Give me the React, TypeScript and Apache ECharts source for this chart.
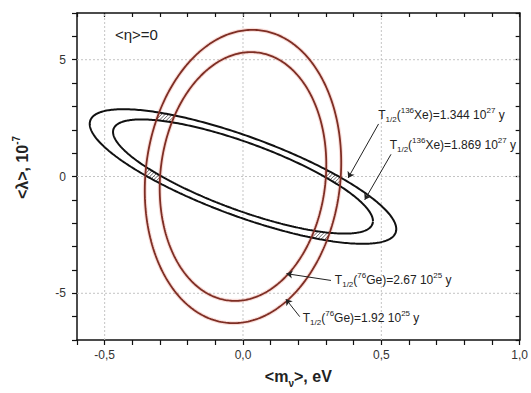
import React, { useEffect, useRef } from "react";
import * as echarts from "echarts";

// Half-life limits behind each allowed-region contour
const geHalfLives = [1.92, 2.67]; // 76Ge, in 10^25 y
const xeHalfLives = [1.344, 1.869]; // 136Xe, in 10^27 y

// Contour at the first half-life of each isotope: [m semi-axis (eV), λ semi-axis (10^-7), tilt term (10^-7)]
const geContour = [0.355, 6.25, 0.6];
const xeContour = [0.554, 1.8, -2.25];

// Axis ticks that carry a label and a grid line
const xLabelTicks = [-0.5, 0, 0.5, 1.0];
const yLabelTicks = [-5, 0, 5];
const xRange = [-0.6, 1.0];
const yRange = [-7, 7];

type Ring = { a: number; b: number; c: number };

// A contour shrinks as 1/sqrt(T1/2) relative to the reference limit
const scaleRing = (shape: number[], tRef: number, t: number): Ring => {
  const s = Math.sqrt(tRef / t);
  return { a: shape[0] * s, b: shape[1] * s, c: shape[2] * s };
};

const ringPoints = (r: Ring, n = 360) => {
  const pts: number[][] = [];
  for (let i = 0; i <= n; i++) {
    const t = (2 * Math.PI * i) / n;
    pts.push([r.a * Math.cos(t), r.b * Math.sin(t) + r.c * Math.cos(t)]);
  }
  return pts;
};

// < 1 inside the contour, > 1 outside
const ringLevel = (r: Ring, x: number, y: number) => {
  const u = x / r.a;
  const v = (y - r.c * u) / r.b;
  return u * u + v * v;
};

const geRings = geHalfLives.map((t) => scaleRing(geContour, geHalfLives[0], t));
const xeRings = xeHalfLives.map((t) => scaleRing(xeContour, xeHalfLives[0], t));

// Points inside both bands (between the two Ge contours and between the two Xe contours)
const inOverlap = (x: number, y: number) =>
  ringLevel(geRings[0], x, y) <= 1 &&
  ringLevel(geRings[1], x, y) >= 1 &&
  ringLevel(xeRings[0], x, y) <= 1 &&
  ringLevel(xeRings[1], x, y) >= 1;

const FONT = "'Liberation Sans', Arial, sans-serif";

const richLabel = {
  sub: { fontSize: 8, verticalAlign: "bottom", lineHeight: 17, fontFamily: FONT, fill: "#222" },
  sup: { fontSize: 8, verticalAlign: "top", lineHeight: 17, fontFamily: FONT, fill: "#222" },
  n: { fontSize: 12, lineHeight: 17, fontFamily: FONT, fill: "#222" },
};

// Callouts: text anchor, arrow tail and arrow tip in data coordinates
const callouts = [
  {
    text: `{n|T}{sub|1/2}{n|(}{sup|136}{n|Xe)=${xeHalfLives[0]} 10}{sup|27}{n| y}`,
    at: [0.489, 2.64],
    tail: [0.49, 2.25],
    tip: [0.38, -0.06],
  },
  {
    text: `{n|T}{sub|1/2}{n|(}{sup|136}{n|Xe)=${xeHalfLives[1]} 10}{sup|27}{n| y}`,
    at: [0.53, 1.35],
    tail: [0.535, 0.95],
    tip: [0.44, -1.0],
  },
  {
    text: `{n|T}{sub|1/2}{n|(}{sup|76}{n|Ge)=${geHalfLives[1]} 10}{sup|25}{n| y}`,
    at: [0.332, -4.43],
    tail: [0.318, -4.45],
    tip: [0.157, -4.16],
  },
  {
    text: `{n|T}{sub|1/2}{n|(}{sup|76}{n|Ge)=${geHalfLives[0]} 10}{sup|25}{n| y}`,
    at: [0.216, -6.05],
    tail: [0.205, -6.0],
    tip: [0.155, -5.25],
  },
];

const isMultiple = (v: number, step: number) => Math.abs(v / step - Math.round(v / step)) < 1e-6;

const axisLineStyle = { color: "#111", width: 1.5 };

const option: any = {
  animation: false,
  backgroundColor: "#fff",
  grid: { left: 77, right: 11, top: 13, bottom: 53 },
  xAxis: [
    {
      type: "value",
      position: "bottom",
      min: xRange[0],
      max: xRange[1],
      interval: 0.1,
      axisLine: { show: true, onZero: false, lineStyle: axisLineStyle },
      axisTick: { show: true, inside: false, length: 5, lineStyle: { color: "#111", width: 1.2 } },
      axisLabel: {
        color: "#333",
        fontSize: 12,
        fontFamily: FONT,
        margin: 9,
        formatter: (v: number) => (isMultiple(v, 0.5) ? v.toFixed(1).replace(".", ",") : ""),
      },
      splitLine: { show: false },
      name: "{n|<m}{s|ν}{n|>, eV}",
      nameLocation: "middle",
      nameGap: 24,
      nameTextStyle: {
        rich: {
          n: { fontSize: 16, fontWeight: "bold", fontFamily: FONT, color: "#222", lineHeight: 24 },
          s: { fontSize: 10, fontWeight: "bold", fontFamily: FONT, color: "#222", lineHeight: 24, verticalAlign: "bottom" },
        },
      },
    },
    {
      type: "value",
      position: "top",
      min: xRange[0],
      max: xRange[1],
      interval: 0.1,
      axisLine: { show: true, onZero: false, lineStyle: axisLineStyle },
      axisTick: { show: true, inside: true, length: 4, lineStyle: { color: "#111", width: 1.2 } },
      axisLabel: { show: false },
      splitLine: { show: false },
    },
  ],
  yAxis: [
    {
      type: "value",
      position: "left",
      min: yRange[0],
      max: yRange[1],
      interval: 1,
      axisLine: { show: true, onZero: false, lineStyle: axisLineStyle },
      axisTick: { show: true, inside: false, length: 5, lineStyle: { color: "#111", width: 1.2 } },
      axisLabel: {
        color: "#333",
        fontSize: 12,
        fontFamily: FONT,
        margin: 11,
        formatter: (v: number) => (isMultiple(v, 5) ? String(v) : ""),
      },
      splitLine: { show: false },
      name: "{n|<λ>, 10}{p|-7}",
      nameLocation: "middle",
      nameGap: 44,
      nameTextStyle: {
        padding: [0, 0, 0, 18],
        rich: {
          n: { fontSize: 16, fontWeight: "bold", fontFamily: FONT, color: "#222", lineHeight: 22 },
          p: { fontSize: 10, fontWeight: "bold", fontFamily: FONT, color: "#222", lineHeight: 22, verticalAlign: "top" },
        },
      },
    },
    {
      type: "value",
      position: "right",
      min: yRange[0],
      max: yRange[1],
      interval: 1,
      axisLine: { show: true, onZero: false, lineStyle: axisLineStyle },
      axisTick: { show: true, inside: true, length: 4, lineStyle: { color: "#111", width: 1.2 } },
      axisLabel: { show: false },
      splitLine: { show: false },
    },
  ],
  series: [
    // dotted grid lines at the labelled ticks
    ...xLabelTicks
      .filter((v) => v > xRange[0] && v < xRange[1])
      .map((v) => ({
        type: "line",
        silent: true,
        symbol: "none",
        z: 1,
        data: [
          [v, yRange[0]],
          [v, yRange[1]],
        ],
        lineStyle: { color: "#c4c4c4", width: 1, type: [2, 2] },
      })),
    ...yLabelTicks
      .filter((v) => v > yRange[0] && v < yRange[1])
      .map((v) => ({
        type: "line",
        silent: true,
        symbol: "none",
        z: 1,
        data: [
          [xRange[0], v],
          [xRange[1], v],
        ],
        lineStyle: { color: "#c4c4c4", width: 1, type: [2, 2] },
      })),
    // hatching where the Ge and Xe bands overlap
    {
      type: "custom",
      silent: true,
      z: 2,
      data: [[0, 0]],
      renderItem: (_params: any, api: any) => {
        const o = api.coord([0, 0]);
        const ux = api.coord([1, 0])[0] - o[0];
        const uy = api.coord([0, 1])[1] - o[1];
        const r = xeRings[0];
        const left = o[0] - (r.a + 0.02) * ux;
        const right = o[0] + (r.a + 0.02) * ux;
        const top = o[1] + 3.2 * uy;
        const bottom = o[1] - 3.2 * uy;
        const children: any[] = [];
        const step = 0.4;
        for (let k = left + top; k <= right + bottom; k += 3.6) {
          const pStart = Math.max(left, k - bottom);
          const pEnd = Math.min(right, k - top);
          let segStart: number | null = null;
          for (let px = pStart; px <= pEnd + step; px += step) {
            const py = k - px;
            const inside = px <= pEnd && inOverlap((px - o[0]) / ux, (py - o[1]) / uy);
            if (inside && segStart === null) segStart = px;
            if (!inside && segStart !== null) {
              children.push({
                type: "line",
                shape: { x1: segStart, y1: k - segStart, x2: px - step, y2: k - (px - step) },
                style: { stroke: "#444", lineWidth: 0.8 },
              });
              segStart = null;
            }
          }
        }
        return { type: "group", children };
      },
    },
    // soft halo of the Ge contours
    ...geRings.map((r) => ({
      type: "line",
      silent: true,
      symbol: "none",
      z: 3,
      data: ringPoints(r),
      lineStyle: { color: "rgba(230,120,105,0.25)", width: 4 },
    })),
    // 136Xe contours
    ...xeRings.map((r) => ({
      type: "line",
      silent: true,
      symbol: "none",
      z: 4,
      data: ringPoints(r),
      lineStyle: { color: "#111", width: 2 },
    })),
    // 76Ge contours
    ...geRings.map((r) => ({
      type: "line",
      silent: true,
      symbol: "none",
      z: 5,
      data: ringPoints(r),
      lineStyle: { color: "#7e2e24", width: 1.8 },
    })),
    // callout arrows
    {
      type: "lines",
      coordinateSystem: "cartesian2d",
      silent: true,
      z: 6,
      symbol: ["none", "arrow"],
      symbolSize: 6,
      lineStyle: { color: "#222", width: 1, opacity: 1 },
      data: callouts.map((c) => ({ coords: [c.tail, c.tip] })),
    },
  ],
};

export default function App() {
  const ref = useRef<HTMLDivElement>(null);
  useEffect(() => {
    document.body.style.margin = "0";
    const chart = echarts.init(ref.current!, null, { renderer: "svg" });
    chart.setOption(option);
    const graphics: any[] = callouts.map((c) => {
      const p = chart.convertToPixel({ gridIndex: 0 }, c.at) as number[];
      return {
        type: "text",
        x: p[0],
        y: p[1],
        silent: true,
        z: 10,
        style: { text: c.text, rich: richLabel, verticalAlign: "middle", align: "left", fill: "#222" },
      };
    });
    const eta = chart.convertToPixel({ gridIndex: 0 }, [-0.463, 6.06]) as number[];
    graphics.push({
      type: "text",
      x: eta[0],
      y: eta[1],
      silent: true,
      z: 10,
      style: { text: "<η>=0", font: `15px ${FONT}`, fill: "#222", verticalAlign: "middle", align: "left" },
    });
    chart.setOption({ graphic: graphics });
    return () => chart.dispose();
  }, []);
  return <div ref={ref} style={{ width: 531, height: 393 }} />;
}
